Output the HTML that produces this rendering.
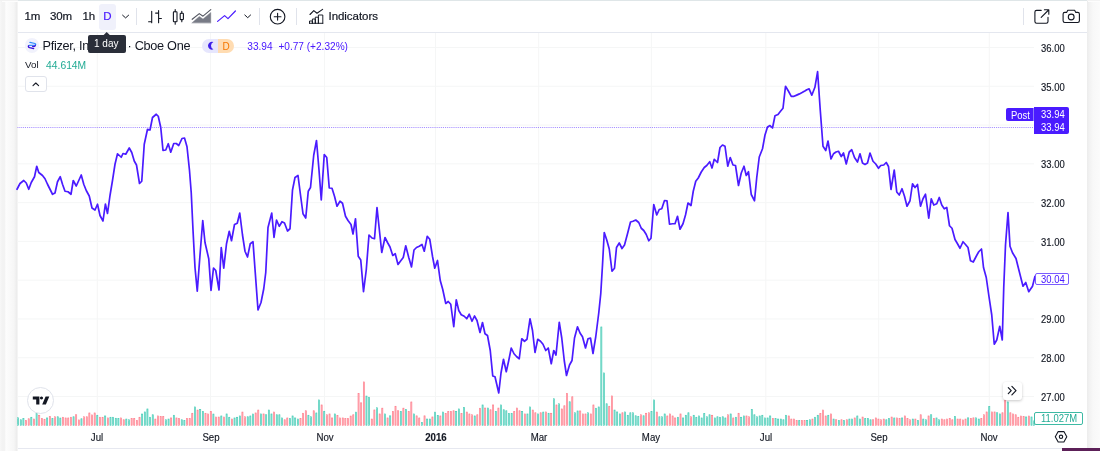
<!DOCTYPE html>
<html><head><meta charset="utf-8"><title>Pfizer chart</title>
<style>
html,body{margin:0;padding:0}
body{width:1100px;height:451px;overflow:hidden;position:relative;background:#fafafa;font-family:"Liberation Sans",sans-serif;color:#131722}
.ls{position:absolute;left:0;top:0;width:17.5px;height:451px;background:linear-gradient(90deg,#f8f8f8 0,#f3f3f3 2px,#f3f3f3 4.5px,#fdfdfd 6px,#fbfbfb 8px,#f6f6f6 14px,#ededed 16.5px,#f4f4f4 17.5px)}
.rs{position:absolute;left:1087.3px;top:0;width:12.7px;height:451px;background:linear-gradient(90deg,#ececec 0,#f3f3f3 3px,#f8f8f8 6px,#fbfbfb 100%)}
.topstrip{position:absolute;left:17.5px;top:0;width:1069.8px;height:1.2px;background:#dfe6e8}
.w{position:absolute;left:17.5px;top:1.2px;width:1069.8px;height:447px;background:#fff}
.tbline{position:absolute;left:17.5px;top:32px;width:1069.8px;height:1px;background:#e4e7ef}
.botline{position:absolute;left:17.5px;top:447.8px;width:1045px;height:1px;background:#e6e8f0}
.below{position:absolute;left:17.5px;top:448.8px;width:1045px;height:3px;background:#fff}
.purple{position:absolute;left:1062.2px;top:447.7px;width:38px;height:4px;background:#5c2058}
.tb{position:absolute;top:10.3px;font-size:11.5px;line-height:13px;letter-spacing:-0.12px;-webkit-text-stroke:0.2px #131722;white-space:nowrap;color:#131722}
.sep{position:absolute;top:8px;width:1px;height:17.4px;background:#e0e3eb}
.dbg{position:absolute;left:98.7px;top:3.6px;width:17.1px;height:26.4px;border-radius:3px;background:#f0f1fb}
svg{position:absolute;left:0;top:0;overflow:visible}
.tl{position:absolute;top:431.6px;width:40px;text-align:center;font-size:10.4px;line-height:12px;color:#131722;-webkit-text-stroke:0.15px #131722;transform:scaleX(.93);transform-origin:50% 50%}
.tl.b{font-weight:bold}
.pl{position:absolute;left:1040.8px;font-size:10.4px;line-height:12px;color:#131722;-webkit-text-stroke:0.15px #131722;white-space:nowrap;transform:scaleX(.91);transform-origin:0 50%}
.sx{display:inline-block;transform:scaleX(.91);transform-origin:0 50%}
.lab{position:absolute;font-size:10.4px;line-height:13.4px;color:#fff;background:#4a1bff;white-space:nowrap;box-sizing:border-box}
.leg{position:absolute;white-space:nowrap}
</style></head><body>
<div class="ls"></div><div class="rs"></div><div class="topstrip"></div>
<div style="position:absolute;left:0;top:0;width:17.5px;height:1.1px;background:#f2f2f2"></div><div style="position:absolute;left:2px;top:1.1px;width:15.5px;height:1px;background:#fdfdfd"></div><div style="position:absolute;left:1087.3px;top:0;width:12.7px;height:1.1px;background:#f3f3f3"></div><div style="position:absolute;left:1088.3px;top:1.1px;width:11.7px;height:1px;background:#fdfdfd"></div>
<div class="w"></div>
<div class="tbline"></div><div class="botline"></div><div class="below"></div><div class="purple"></div>

<!-- chart svg -->
<svg width="1100" height="451" viewBox="0 0 1100 451">
<g stroke="#f5f6f6" stroke-width="1" shape-rendering="auto"><line x1="97.3" y1="33" x2="97.3" y2="425" /><line x1="210.5" y1="33" x2="210.5" y2="425" /><line x1="324.5" y1="33" x2="324.5" y2="425" /><line x1="435.5" y1="33" x2="435.5" y2="425" /><line x1="538.7" y1="33" x2="538.7" y2="425" /><line x1="651.4" y1="33" x2="651.4" y2="425" /><line x1="765.8" y1="33" x2="765.8" y2="425" /><line x1="878.7" y1="33" x2="878.7" y2="425" /><line x1="989.3" y1="33" x2="989.3" y2="425" /><line x1="17.5" y1="47.5" x2="1034" y2="47.5" /><line x1="17.5" y1="86.28" x2="1034" y2="86.28" /><line x1="17.5" y1="125.06" x2="1034" y2="125.06" /><line x1="17.5" y1="163.84" x2="1034" y2="163.84" /><line x1="17.5" y1="202.62" x2="1034" y2="202.62" /><line x1="17.5" y1="241.4" x2="1034" y2="241.4" /><line x1="17.5" y1="280.18" x2="1034" y2="280.18" /><line x1="17.5" y1="318.96" x2="1034" y2="318.96" /><line x1="17.5" y1="357.74" x2="1034" y2="357.74" /><line x1="17.5" y1="396.52" x2="1034" y2="396.52" /></g>
<g><rect x="17.58" y="417.75" width="1.1" height="7.5" fill="#9be4d8" stroke="#3cc9b2" stroke-width="0.6"/>
<rect x="20.22" y="419.75" width="1.1" height="5.5" fill="#9be4d8" stroke="#3cc9b2" stroke-width="0.6"/>
<rect x="22.86" y="418.55" width="1.1" height="6.7" fill="#9be4d8" stroke="#3cc9b2" stroke-width="0.6"/>
<rect x="25.5" y="420.55" width="1.1" height="4.7" fill="#ffbcc2" stroke="#ff7584" stroke-width="0.6"/>
<rect x="28.14" y="418.75" width="1.1" height="6.5" fill="#ffbcc2" stroke="#ff7584" stroke-width="0.6"/>
<rect x="30.78" y="417.25" width="1.1" height="8" fill="#9be4d8" stroke="#3cc9b2" stroke-width="0.6"/>
<rect x="33.41" y="419.05" width="1.1" height="6.2" fill="#ffbcc2" stroke="#ff7584" stroke-width="0.6"/>
<rect x="36.05" y="412.95" width="1.1" height="12.3" fill="#9be4d8" stroke="#3cc9b2" stroke-width="0.6"/>
<rect x="38.69" y="415.25" width="1.1" height="10" fill="#ffbcc2" stroke="#ff7584" stroke-width="0.6"/>
<rect x="41.33" y="418.55" width="1.1" height="6.7" fill="#ffbcc2" stroke="#ff7584" stroke-width="0.6"/>
<rect x="43.97" y="419.25" width="1.1" height="6" fill="#ffbcc2" stroke="#ff7584" stroke-width="0.6"/>
<rect x="46.61" y="417.95" width="1.1" height="7.3" fill="#9be4d8" stroke="#3cc9b2" stroke-width="0.6"/>
<rect x="49.25" y="416.55" width="1.1" height="8.7" fill="#ffbcc2" stroke="#ff7584" stroke-width="0.6"/>
<rect x="51.89" y="418.55" width="1.1" height="6.7" fill="#9be4d8" stroke="#3cc9b2" stroke-width="0.6"/>
<rect x="54.53" y="416.75" width="1.1" height="8.5" fill="#ffbcc2" stroke="#ff7584" stroke-width="0.6"/>
<rect x="57.17" y="416.75" width="1.1" height="8.5" fill="#9be4d8" stroke="#3cc9b2" stroke-width="0.6"/>
<rect x="59.8" y="418.05" width="1.1" height="7.2" fill="#9be4d8" stroke="#3cc9b2" stroke-width="0.6"/>
<rect x="62.44" y="417.25" width="1.1" height="8" fill="#ffbcc2" stroke="#ff7584" stroke-width="0.6"/>
<rect x="65.08" y="417.95" width="1.1" height="7.3" fill="#ffbcc2" stroke="#ff7584" stroke-width="0.6"/>
<rect x="67.72" y="417.95" width="1.1" height="7.3" fill="#ffbcc2" stroke="#ff7584" stroke-width="0.6"/>
<rect x="70.36" y="417.25" width="1.1" height="8" fill="#ffbcc2" stroke="#ff7584" stroke-width="0.6"/>
<rect x="73" y="416.75" width="1.1" height="8.5" fill="#9be4d8" stroke="#3cc9b2" stroke-width="0.6"/>
<rect x="75.64" y="414.75" width="1.1" height="10.5" fill="#ffbcc2" stroke="#ff7584" stroke-width="0.6"/>
<rect x="78.28" y="419.95" width="1.1" height="5.3" fill="#ffbcc2" stroke="#ff7584" stroke-width="0.6"/>
<rect x="80.92" y="418.75" width="1.1" height="6.5" fill="#9be4d8" stroke="#3cc9b2" stroke-width="0.6"/>
<rect x="83.56" y="416.75" width="1.1" height="8.5" fill="#ffbcc2" stroke="#ff7584" stroke-width="0.6"/>
<rect x="86.19" y="416.75" width="1.1" height="8.5" fill="#ffbcc2" stroke="#ff7584" stroke-width="0.6"/>
<rect x="88.83" y="412.95" width="1.1" height="12.3" fill="#ffbcc2" stroke="#ff7584" stroke-width="0.6"/>
<rect x="91.47" y="414.95" width="1.1" height="10.3" fill="#ffbcc2" stroke="#ff7584" stroke-width="0.6"/>
<rect x="94.11" y="412.95" width="1.1" height="12.3" fill="#ffbcc2" stroke="#ff7584" stroke-width="0.6"/>
<rect x="96.75" y="415.25" width="1.1" height="10" fill="#9be4d8" stroke="#3cc9b2" stroke-width="0.6"/>
<rect x="99.39" y="417.25" width="1.1" height="8" fill="#ffbcc2" stroke="#ff7584" stroke-width="0.6"/>
<rect x="102.03" y="417.25" width="1.1" height="8" fill="#ffbcc2" stroke="#ff7584" stroke-width="0.6"/>
<rect x="104.67" y="415.95" width="1.1" height="9.3" fill="#9be4d8" stroke="#3cc9b2" stroke-width="0.6"/>
<rect x="107.31" y="417.95" width="1.1" height="7.3" fill="#ffbcc2" stroke="#ff7584" stroke-width="0.6"/>
<rect x="109.94" y="417.25" width="1.1" height="8" fill="#9be4d8" stroke="#3cc9b2" stroke-width="0.6"/>
<rect x="112.58" y="417.25" width="1.1" height="8" fill="#9be4d8" stroke="#3cc9b2" stroke-width="0.6"/>
<rect x="115.22" y="418.25" width="1.1" height="7" fill="#9be4d8" stroke="#3cc9b2" stroke-width="0.6"/>
<rect x="117.86" y="418.45" width="1.1" height="6.8" fill="#9be4d8" stroke="#3cc9b2" stroke-width="0.6"/>
<rect x="120.5" y="417.95" width="1.1" height="7.3" fill="#ffbcc2" stroke="#ff7584" stroke-width="0.6"/>
<rect x="123.14" y="419.75" width="1.1" height="5.5" fill="#ffbcc2" stroke="#ff7584" stroke-width="0.6"/>
<rect x="125.78" y="419.05" width="1.1" height="6.2" fill="#9be4d8" stroke="#3cc9b2" stroke-width="0.6"/>
<rect x="128.42" y="419.75" width="1.1" height="5.5" fill="#9be4d8" stroke="#3cc9b2" stroke-width="0.6"/>
<rect x="131.06" y="418.55" width="1.1" height="6.7" fill="#ffbcc2" stroke="#ff7584" stroke-width="0.6"/>
<rect x="133.7" y="418.45" width="1.1" height="6.8" fill="#ffbcc2" stroke="#ff7584" stroke-width="0.6"/>
<rect x="136.33" y="420.55" width="1.1" height="4.7" fill="#ffbcc2" stroke="#ff7584" stroke-width="0.6"/>
<rect x="138.97" y="417.25" width="1.1" height="8" fill="#ffbcc2" stroke="#ff7584" stroke-width="0.6"/>
<rect x="141.61" y="414.05" width="1.1" height="11.2" fill="#9be4d8" stroke="#3cc9b2" stroke-width="0.6"/>
<rect x="144.25" y="411.95" width="1.1" height="13.3" fill="#9be4d8" stroke="#3cc9b2" stroke-width="0.6"/>
<rect x="146.89" y="408.95" width="1.1" height="16.3" fill="#9be4d8" stroke="#3cc9b2" stroke-width="0.6"/>
<rect x="149.53" y="417.25" width="1.1" height="8" fill="#9be4d8" stroke="#3cc9b2" stroke-width="0.6"/>
<rect x="152.17" y="414.75" width="1.1" height="10.5" fill="#9be4d8" stroke="#3cc9b2" stroke-width="0.6"/>
<rect x="154.81" y="419.05" width="1.1" height="6.2" fill="#ffbcc2" stroke="#ff7584" stroke-width="0.6"/>
<rect x="157.45" y="415.95" width="1.1" height="9.3" fill="#ffbcc2" stroke="#ff7584" stroke-width="0.6"/>
<rect x="160.09" y="416.55" width="1.1" height="8.7" fill="#ffbcc2" stroke="#ff7584" stroke-width="0.6"/>
<rect x="162.72" y="416.55" width="1.1" height="8.7" fill="#ffbcc2" stroke="#ff7584" stroke-width="0.6"/>
<rect x="165.36" y="419.75" width="1.1" height="5.5" fill="#9be4d8" stroke="#3cc9b2" stroke-width="0.6"/>
<rect x="168" y="419.05" width="1.1" height="6.2" fill="#9be4d8" stroke="#3cc9b2" stroke-width="0.6"/>
<rect x="170.64" y="417.95" width="1.1" height="7.3" fill="#ffbcc2" stroke="#ff7584" stroke-width="0.6"/>
<rect x="173.28" y="415.25" width="1.1" height="10" fill="#9be4d8" stroke="#3cc9b2" stroke-width="0.6"/>
<rect x="175.92" y="417.95" width="1.1" height="7.3" fill="#ffbcc2" stroke="#ff7584" stroke-width="0.6"/>
<rect x="178.56" y="418.45" width="1.1" height="6.8" fill="#ffbcc2" stroke="#ff7584" stroke-width="0.6"/>
<rect x="181.2" y="419.75" width="1.1" height="5.5" fill="#9be4d8" stroke="#3cc9b2" stroke-width="0.6"/>
<rect x="183.84" y="420.55" width="1.1" height="4.7" fill="#9be4d8" stroke="#3cc9b2" stroke-width="0.6"/>
<rect x="186.48" y="418.55" width="1.1" height="6.7" fill="#ffbcc2" stroke="#ff7584" stroke-width="0.6"/>
<rect x="189.11" y="418.55" width="1.1" height="6.7" fill="#ffbcc2" stroke="#ff7584" stroke-width="0.6"/>
<rect x="191.75" y="413.25" width="1.1" height="12" fill="#ffbcc2" stroke="#ff7584" stroke-width="0.6"/>
<rect x="194.39" y="406.95" width="1.1" height="18.3" fill="#9be4d8" stroke="#3cc9b2" stroke-width="0.6"/>
<rect x="197.03" y="410.05" width="1.1" height="15.2" fill="#ffbcc2" stroke="#ff7584" stroke-width="0.6"/>
<rect x="199.67" y="409.55" width="1.1" height="15.7" fill="#9be4d8" stroke="#3cc9b2" stroke-width="0.6"/>
<rect x="202.31" y="411.55" width="1.1" height="13.7" fill="#9be4d8" stroke="#3cc9b2" stroke-width="0.6"/>
<rect x="204.95" y="413.25" width="1.1" height="12" fill="#ffbcc2" stroke="#ff7584" stroke-width="0.6"/>
<rect x="207.59" y="413.95" width="1.1" height="11.3" fill="#ffbcc2" stroke="#ff7584" stroke-width="0.6"/>
<rect x="210.23" y="411.45" width="1.1" height="13.8" fill="#ffbcc2" stroke="#ff7584" stroke-width="0.6"/>
<rect x="212.87" y="414.05" width="1.1" height="11.2" fill="#9be4d8" stroke="#3cc9b2" stroke-width="0.6"/>
<rect x="215.5" y="417.05" width="1.1" height="8.2" fill="#ffbcc2" stroke="#ff7584" stroke-width="0.6"/>
<rect x="218.14" y="417.05" width="1.1" height="8.2" fill="#ffbcc2" stroke="#ff7584" stroke-width="0.6"/>
<rect x="220.78" y="415.95" width="1.1" height="9.3" fill="#9be4d8" stroke="#3cc9b2" stroke-width="0.6"/>
<rect x="223.42" y="417.05" width="1.1" height="8.2" fill="#ffbcc2" stroke="#ff7584" stroke-width="0.6"/>
<rect x="226.06" y="413.95" width="1.1" height="11.3" fill="#9be4d8" stroke="#3cc9b2" stroke-width="0.6"/>
<rect x="228.7" y="417.25" width="1.1" height="8" fill="#9be4d8" stroke="#3cc9b2" stroke-width="0.6"/>
<rect x="231.34" y="419.05" width="1.1" height="6.2" fill="#ffbcc2" stroke="#ff7584" stroke-width="0.6"/>
<rect x="233.98" y="417.95" width="1.1" height="7.3" fill="#9be4d8" stroke="#3cc9b2" stroke-width="0.6"/>
<rect x="236.62" y="417.25" width="1.1" height="8" fill="#9be4d8" stroke="#3cc9b2" stroke-width="0.6"/>
<rect x="239.26" y="415.95" width="1.1" height="9.3" fill="#9be4d8" stroke="#3cc9b2" stroke-width="0.6"/>
<rect x="241.89" y="412.05" width="1.1" height="13.2" fill="#ffbcc2" stroke="#ff7584" stroke-width="0.6"/>
<rect x="244.53" y="416.75" width="1.1" height="8.5" fill="#ffbcc2" stroke="#ff7584" stroke-width="0.6"/>
<rect x="247.17" y="416.75" width="1.1" height="8.5" fill="#9be4d8" stroke="#3cc9b2" stroke-width="0.6"/>
<rect x="249.81" y="415.95" width="1.1" height="9.3" fill="#9be4d8" stroke="#3cc9b2" stroke-width="0.6"/>
<rect x="252.45" y="414.05" width="1.1" height="11.2" fill="#9be4d8" stroke="#3cc9b2" stroke-width="0.6"/>
<rect x="255.09" y="412.95" width="1.1" height="12.3" fill="#ffbcc2" stroke="#ff7584" stroke-width="0.6"/>
<rect x="257.73" y="410.05" width="1.1" height="15.2" fill="#ffbcc2" stroke="#ff7584" stroke-width="0.6"/>
<rect x="260.37" y="413.95" width="1.1" height="11.3" fill="#9be4d8" stroke="#3cc9b2" stroke-width="0.6"/>
<rect x="263.01" y="413.95" width="1.1" height="11.3" fill="#ffbcc2" stroke="#ff7584" stroke-width="0.6"/>
<rect x="265.65" y="414.75" width="1.1" height="10.5" fill="#9be4d8" stroke="#3cc9b2" stroke-width="0.6"/>
<rect x="268.28" y="410.05" width="1.1" height="15.2" fill="#9be4d8" stroke="#3cc9b2" stroke-width="0.6"/>
<rect x="270.92" y="413.95" width="1.1" height="11.3" fill="#9be4d8" stroke="#3cc9b2" stroke-width="0.6"/>
<rect x="273.56" y="412.05" width="1.1" height="13.2" fill="#ffbcc2" stroke="#ff7584" stroke-width="0.6"/>
<rect x="276.2" y="414.75" width="1.1" height="10.5" fill="#9be4d8" stroke="#3cc9b2" stroke-width="0.6"/>
<rect x="278.84" y="414.75" width="1.1" height="10.5" fill="#9be4d8" stroke="#3cc9b2" stroke-width="0.6"/>
<rect x="281.48" y="417.95" width="1.1" height="7.3" fill="#9be4d8" stroke="#3cc9b2" stroke-width="0.6"/>
<rect x="284.12" y="419.75" width="1.1" height="5.5" fill="#ffbcc2" stroke="#ff7584" stroke-width="0.6"/>
<rect x="286.76" y="417.95" width="1.1" height="7.3" fill="#ffbcc2" stroke="#ff7584" stroke-width="0.6"/>
<rect x="289.4" y="418.55" width="1.1" height="6.7" fill="#9be4d8" stroke="#3cc9b2" stroke-width="0.6"/>
<rect x="292.04" y="415.95" width="1.1" height="9.3" fill="#9be4d8" stroke="#3cc9b2" stroke-width="0.6"/>
<rect x="294.67" y="417.95" width="1.1" height="7.3" fill="#9be4d8" stroke="#3cc9b2" stroke-width="0.6"/>
<rect x="297.31" y="419.05" width="1.1" height="6.2" fill="#9be4d8" stroke="#3cc9b2" stroke-width="0.6"/>
<rect x="299.95" y="418.45" width="1.1" height="6.8" fill="#ffbcc2" stroke="#ff7584" stroke-width="0.6"/>
<rect x="302.59" y="413.25" width="1.1" height="12" fill="#ffbcc2" stroke="#ff7584" stroke-width="0.6"/>
<rect x="305.23" y="410.75" width="1.1" height="14.5" fill="#ffbcc2" stroke="#ff7584" stroke-width="0.6"/>
<rect x="307.87" y="415.25" width="1.1" height="10" fill="#9be4d8" stroke="#3cc9b2" stroke-width="0.6"/>
<rect x="310.51" y="416.75" width="1.1" height="8.5" fill="#9be4d8" stroke="#3cc9b2" stroke-width="0.6"/>
<rect x="313.15" y="410.75" width="1.1" height="14.5" fill="#ffbcc2" stroke="#ff7584" stroke-width="0.6"/>
<rect x="315.79" y="412.95" width="1.1" height="12.3" fill="#9be4d8" stroke="#3cc9b2" stroke-width="0.6"/>
<rect x="318.43" y="399.95" width="1.1" height="25.3" fill="#9be4d8" stroke="#3cc9b2" stroke-width="0.6"/>
<rect x="321.06" y="404.95" width="1.1" height="20.3" fill="#ffbcc2" stroke="#ff7584" stroke-width="0.6"/>
<rect x="323.7" y="411.25" width="1.1" height="14" fill="#9be4d8" stroke="#3cc9b2" stroke-width="0.6"/>
<rect x="326.34" y="414.75" width="1.1" height="10.5" fill="#ffbcc2" stroke="#ff7584" stroke-width="0.6"/>
<rect x="328.98" y="413.95" width="1.1" height="11.3" fill="#ffbcc2" stroke="#ff7584" stroke-width="0.6"/>
<rect x="331.62" y="417.95" width="1.1" height="7.3" fill="#ffbcc2" stroke="#ff7584" stroke-width="0.6"/>
<rect x="334.26" y="413.95" width="1.1" height="11.3" fill="#9be4d8" stroke="#3cc9b2" stroke-width="0.6"/>
<rect x="336.9" y="415.35" width="1.1" height="9.9" fill="#ffbcc2" stroke="#ff7584" stroke-width="0.6"/>
<rect x="339.54" y="417.95" width="1.1" height="7.3" fill="#ffbcc2" stroke="#ff7584" stroke-width="0.6"/>
<rect x="342.18" y="417.95" width="1.1" height="7.3" fill="#ffbcc2" stroke="#ff7584" stroke-width="0.6"/>
<rect x="344.82" y="418.65" width="1.1" height="6.6" fill="#ffbcc2" stroke="#ff7584" stroke-width="0.6"/>
<rect x="347.45" y="418.65" width="1.1" height="6.6" fill="#ffbcc2" stroke="#ff7584" stroke-width="0.6"/>
<rect x="350.09" y="416.05" width="1.1" height="9.2" fill="#ffbcc2" stroke="#ff7584" stroke-width="0.6"/>
<rect x="352.73" y="414.75" width="1.1" height="10.5" fill="#ffbcc2" stroke="#ff7584" stroke-width="0.6"/>
<rect x="355.37" y="412.15" width="1.1" height="13.1" fill="#9be4d8" stroke="#3cc9b2" stroke-width="0.6"/>
<rect x="358.01" y="393.45" width="1.1" height="31.8" fill="#ffbcc2" stroke="#ff7584" stroke-width="0.6"/>
<rect x="360.65" y="402.85" width="1.1" height="22.4" fill="#ffbcc2" stroke="#ff7584" stroke-width="0.6"/>
<rect x="363.29" y="381.95" width="1.1" height="43.3" fill="#ffbcc2" stroke="#ff7584" stroke-width="0.6"/>
<rect x="365.93" y="396.05" width="1.1" height="29.2" fill="#9be4d8" stroke="#3cc9b2" stroke-width="0.6"/>
<rect x="368.57" y="397.25" width="1.1" height="28" fill="#9be4d8" stroke="#3cc9b2" stroke-width="0.6"/>
<rect x="371.21" y="419.05" width="1.1" height="6.2" fill="#ffbcc2" stroke="#ff7584" stroke-width="0.6"/>
<rect x="373.84" y="409.95" width="1.1" height="15.3" fill="#ffbcc2" stroke="#ff7584" stroke-width="0.6"/>
<rect x="376.48" y="407.75" width="1.1" height="17.5" fill="#9be4d8" stroke="#3cc9b2" stroke-width="0.6"/>
<rect x="379.12" y="413.95" width="1.1" height="11.3" fill="#ffbcc2" stroke="#ff7584" stroke-width="0.6"/>
<rect x="381.76" y="408.15" width="1.1" height="17.1" fill="#ffbcc2" stroke="#ff7584" stroke-width="0.6"/>
<rect x="384.4" y="413.95" width="1.1" height="11.3" fill="#9be4d8" stroke="#3cc9b2" stroke-width="0.6"/>
<rect x="387.04" y="417.95" width="1.1" height="7.3" fill="#ffbcc2" stroke="#ff7584" stroke-width="0.6"/>
<rect x="389.68" y="415.85" width="1.1" height="9.4" fill="#9be4d8" stroke="#3cc9b2" stroke-width="0.6"/>
<rect x="392.32" y="411.55" width="1.1" height="13.7" fill="#ffbcc2" stroke="#ff7584" stroke-width="0.6"/>
<rect x="394.96" y="406.25" width="1.1" height="19" fill="#ffbcc2" stroke="#ff7584" stroke-width="0.6"/>
<rect x="397.6" y="410.75" width="1.1" height="14.5" fill="#ffbcc2" stroke="#ff7584" stroke-width="0.6"/>
<rect x="400.23" y="411.55" width="1.1" height="13.7" fill="#9be4d8" stroke="#3cc9b2" stroke-width="0.6"/>
<rect x="402.87" y="408.15" width="1.1" height="17.1" fill="#ffbcc2" stroke="#ff7584" stroke-width="0.6"/>
<rect x="405.51" y="409.65" width="1.1" height="15.6" fill="#9be4d8" stroke="#3cc9b2" stroke-width="0.6"/>
<rect x="408.15" y="411.55" width="1.1" height="13.7" fill="#ffbcc2" stroke="#ff7584" stroke-width="0.6"/>
<rect x="410.79" y="401.95" width="1.1" height="23.3" fill="#ffbcc2" stroke="#ff7584" stroke-width="0.6"/>
<rect x="413.43" y="413.95" width="1.1" height="11.3" fill="#9be4d8" stroke="#3cc9b2" stroke-width="0.6"/>
<rect x="416.07" y="415.85" width="1.1" height="9.4" fill="#ffbcc2" stroke="#ff7584" stroke-width="0.6"/>
<rect x="418.71" y="417.95" width="1.1" height="7.3" fill="#ffbcc2" stroke="#ff7584" stroke-width="0.6"/>
<rect x="421.35" y="422.35" width="1.1" height="2.9" fill="#9be4d8" stroke="#3cc9b2" stroke-width="0.6"/>
<rect x="423.99" y="415.85" width="1.1" height="9.4" fill="#ffbcc2" stroke="#ff7584" stroke-width="0.6"/>
<rect x="426.62" y="419.05" width="1.1" height="6.2" fill="#9be4d8" stroke="#3cc9b2" stroke-width="0.6"/>
<rect x="429.26" y="419.05" width="1.1" height="6.2" fill="#9be4d8" stroke="#3cc9b2" stroke-width="0.6"/>
<rect x="431.9" y="416.95" width="1.1" height="8.3" fill="#ffbcc2" stroke="#ff7584" stroke-width="0.6"/>
<rect x="434.54" y="412.15" width="1.1" height="13.1" fill="#9be4d8" stroke="#3cc9b2" stroke-width="0.6"/>
<rect x="437.18" y="415.35" width="1.1" height="9.9" fill="#9be4d8" stroke="#3cc9b2" stroke-width="0.6"/>
<rect x="439.82" y="415.95" width="1.1" height="9.3" fill="#ffbcc2" stroke="#ff7584" stroke-width="0.6"/>
<rect x="442.46" y="412.05" width="1.1" height="13.2" fill="#9be4d8" stroke="#3cc9b2" stroke-width="0.6"/>
<rect x="445.1" y="413.45" width="1.1" height="11.8" fill="#ffbcc2" stroke="#ff7584" stroke-width="0.6"/>
<rect x="447.74" y="411.55" width="1.1" height="13.7" fill="#ffbcc2" stroke="#ff7584" stroke-width="0.6"/>
<rect x="450.38" y="411.55" width="1.1" height="13.7" fill="#ffbcc2" stroke="#ff7584" stroke-width="0.6"/>
<rect x="453.01" y="410.75" width="1.1" height="14.5" fill="#ffbcc2" stroke="#ff7584" stroke-width="0.6"/>
<rect x="455.65" y="411.55" width="1.1" height="13.7" fill="#9be4d8" stroke="#3cc9b2" stroke-width="0.6"/>
<rect x="458.29" y="408.95" width="1.1" height="16.3" fill="#9be4d8" stroke="#3cc9b2" stroke-width="0.6"/>
<rect x="460.93" y="413.45" width="1.1" height="11.8" fill="#ffbcc2" stroke="#ff7584" stroke-width="0.6"/>
<rect x="463.57" y="407.55" width="1.1" height="17.7" fill="#9be4d8" stroke="#3cc9b2" stroke-width="0.6"/>
<rect x="466.21" y="412.05" width="1.1" height="13.2" fill="#ffbcc2" stroke="#ff7584" stroke-width="0.6"/>
<rect x="468.85" y="413.95" width="1.1" height="11.3" fill="#ffbcc2" stroke="#ff7584" stroke-width="0.6"/>
<rect x="471.49" y="414.75" width="1.1" height="10.5" fill="#ffbcc2" stroke="#ff7584" stroke-width="0.6"/>
<rect x="474.13" y="415.95" width="1.1" height="9.3" fill="#9be4d8" stroke="#3cc9b2" stroke-width="0.6"/>
<rect x="476.77" y="414.75" width="1.1" height="10.5" fill="#ffbcc2" stroke="#ff7584" stroke-width="0.6"/>
<rect x="479.4" y="408.25" width="1.1" height="17" fill="#ffbcc2" stroke="#ff7584" stroke-width="0.6"/>
<rect x="482.04" y="404.95" width="1.1" height="20.3" fill="#9be4d8" stroke="#3cc9b2" stroke-width="0.6"/>
<rect x="484.68" y="408.05" width="1.1" height="17.2" fill="#ffbcc2" stroke="#ff7584" stroke-width="0.6"/>
<rect x="487.32" y="408.05" width="1.1" height="17.2" fill="#9be4d8" stroke="#3cc9b2" stroke-width="0.6"/>
<rect x="489.96" y="409.75" width="1.1" height="15.5" fill="#ffbcc2" stroke="#ff7584" stroke-width="0.6"/>
<rect x="492.6" y="404.95" width="1.1" height="20.3" fill="#ffbcc2" stroke="#ff7584" stroke-width="0.6"/>
<rect x="495.24" y="411.55" width="1.1" height="13.7" fill="#9be4d8" stroke="#3cc9b2" stroke-width="0.6"/>
<rect x="497.88" y="408.05" width="1.1" height="17.2" fill="#ffbcc2" stroke="#ff7584" stroke-width="0.6"/>
<rect x="500.52" y="404.95" width="1.1" height="20.3" fill="#9be4d8" stroke="#3cc9b2" stroke-width="0.6"/>
<rect x="503.16" y="409.75" width="1.1" height="15.5" fill="#9be4d8" stroke="#3cc9b2" stroke-width="0.6"/>
<rect x="505.79" y="410.75" width="1.1" height="14.5" fill="#9be4d8" stroke="#3cc9b2" stroke-width="0.6"/>
<rect x="508.43" y="413.45" width="1.1" height="11.8" fill="#9be4d8" stroke="#3cc9b2" stroke-width="0.6"/>
<rect x="511.07" y="413.45" width="1.1" height="11.8" fill="#9be4d8" stroke="#3cc9b2" stroke-width="0.6"/>
<rect x="513.71" y="411.55" width="1.1" height="13.7" fill="#ffbcc2" stroke="#ff7584" stroke-width="0.6"/>
<rect x="516.35" y="408.05" width="1.1" height="17.2" fill="#ffbcc2" stroke="#ff7584" stroke-width="0.6"/>
<rect x="518.99" y="410.75" width="1.1" height="14.5" fill="#ffbcc2" stroke="#ff7584" stroke-width="0.6"/>
<rect x="521.63" y="411.55" width="1.1" height="13.7" fill="#9be4d8" stroke="#3cc9b2" stroke-width="0.6"/>
<rect x="524.27" y="413.95" width="1.1" height="11.3" fill="#ffbcc2" stroke="#ff7584" stroke-width="0.6"/>
<rect x="526.91" y="413.95" width="1.1" height="11.3" fill="#9be4d8" stroke="#3cc9b2" stroke-width="0.6"/>
<rect x="529.55" y="406.95" width="1.1" height="18.3" fill="#9be4d8" stroke="#3cc9b2" stroke-width="0.6"/>
<rect x="532.18" y="410.05" width="1.1" height="15.2" fill="#ffbcc2" stroke="#ff7584" stroke-width="0.6"/>
<rect x="534.82" y="412.75" width="1.1" height="12.5" fill="#ffbcc2" stroke="#ff7584" stroke-width="0.6"/>
<rect x="537.46" y="413.95" width="1.1" height="11.3" fill="#9be4d8" stroke="#3cc9b2" stroke-width="0.6"/>
<rect x="540.1" y="412.75" width="1.1" height="12.5" fill="#ffbcc2" stroke="#ff7584" stroke-width="0.6"/>
<rect x="542.74" y="412.05" width="1.1" height="13.2" fill="#9be4d8" stroke="#3cc9b2" stroke-width="0.6"/>
<rect x="545.38" y="411.95" width="1.1" height="13.3" fill="#ffbcc2" stroke="#ff7584" stroke-width="0.6"/>
<rect x="548.02" y="413.25" width="1.1" height="12" fill="#9be4d8" stroke="#3cc9b2" stroke-width="0.6"/>
<rect x="550.66" y="413.25" width="1.1" height="12" fill="#ffbcc2" stroke="#ff7584" stroke-width="0.6"/>
<rect x="553.3" y="398.75" width="1.1" height="26.5" fill="#9be4d8" stroke="#3cc9b2" stroke-width="0.6"/>
<rect x="555.94" y="404.95" width="1.1" height="20.3" fill="#ffbcc2" stroke="#ff7584" stroke-width="0.6"/>
<rect x="558.58" y="403.75" width="1.1" height="21.5" fill="#9be4d8" stroke="#3cc9b2" stroke-width="0.6"/>
<rect x="561.21" y="408.95" width="1.1" height="16.3" fill="#ffbcc2" stroke="#ff7584" stroke-width="0.6"/>
<rect x="563.85" y="405.75" width="1.1" height="19.5" fill="#ffbcc2" stroke="#ff7584" stroke-width="0.6"/>
<rect x="566.49" y="393.55" width="1.1" height="31.7" fill="#ffbcc2" stroke="#ff7584" stroke-width="0.6"/>
<rect x="569.13" y="401.75" width="1.1" height="23.5" fill="#9be4d8" stroke="#3cc9b2" stroke-width="0.6"/>
<rect x="571.77" y="396.75" width="1.1" height="28.5" fill="#ffbcc2" stroke="#ff7584" stroke-width="0.6"/>
<rect x="574.41" y="412.75" width="1.1" height="12.5" fill="#9be4d8" stroke="#3cc9b2" stroke-width="0.6"/>
<rect x="577.05" y="410.95" width="1.1" height="14.3" fill="#9be4d8" stroke="#3cc9b2" stroke-width="0.6"/>
<rect x="579.69" y="410.95" width="1.1" height="14.3" fill="#ffbcc2" stroke="#ff7584" stroke-width="0.6"/>
<rect x="582.33" y="413.95" width="1.1" height="11.3" fill="#ffbcc2" stroke="#ff7584" stroke-width="0.6"/>
<rect x="584.97" y="413.95" width="1.1" height="11.3" fill="#ffbcc2" stroke="#ff7584" stroke-width="0.6"/>
<rect x="587.6" y="412.75" width="1.1" height="12.5" fill="#9be4d8" stroke="#3cc9b2" stroke-width="0.6"/>
<rect x="590.24" y="413.95" width="1.1" height="11.3" fill="#ffbcc2" stroke="#ff7584" stroke-width="0.6"/>
<rect x="592.88" y="404.95" width="1.1" height="20.3" fill="#ffbcc2" stroke="#ff7584" stroke-width="0.6"/>
<rect x="595.52" y="408.25" width="1.1" height="17" fill="#9be4d8" stroke="#3cc9b2" stroke-width="0.6"/>
<rect x="598.16" y="406.95" width="1.1" height="18.3" fill="#9be4d8" stroke="#3cc9b2" stroke-width="0.6"/>
<rect x="600.8" y="326.95" width="1.1" height="98.3" fill="#9be4d8" stroke="#3cc9b2" stroke-width="0.6"/>
<rect x="603.44" y="372.95" width="1.1" height="52.3" fill="#9be4d8" stroke="#3cc9b2" stroke-width="0.6"/>
<rect x="606.08" y="403.75" width="1.1" height="21.5" fill="#9be4d8" stroke="#3cc9b2" stroke-width="0.6"/>
<rect x="608.72" y="406.25" width="1.1" height="19" fill="#ffbcc2" stroke="#ff7584" stroke-width="0.6"/>
<rect x="611.35" y="395.95" width="1.1" height="29.3" fill="#ffbcc2" stroke="#ff7584" stroke-width="0.6"/>
<rect x="613.99" y="410.05" width="1.1" height="15.2" fill="#9be4d8" stroke="#3cc9b2" stroke-width="0.6"/>
<rect x="616.63" y="411.95" width="1.1" height="13.3" fill="#9be4d8" stroke="#3cc9b2" stroke-width="0.6"/>
<rect x="619.27" y="413.95" width="1.1" height="11.3" fill="#9be4d8" stroke="#3cc9b2" stroke-width="0.6"/>
<rect x="621.91" y="412.75" width="1.1" height="12.5" fill="#ffbcc2" stroke="#ff7584" stroke-width="0.6"/>
<rect x="624.55" y="411.95" width="1.1" height="13.3" fill="#9be4d8" stroke="#3cc9b2" stroke-width="0.6"/>
<rect x="627.19" y="415.25" width="1.1" height="10" fill="#9be4d8" stroke="#3cc9b2" stroke-width="0.6"/>
<rect x="629.83" y="412.75" width="1.1" height="12.5" fill="#9be4d8" stroke="#3cc9b2" stroke-width="0.6"/>
<rect x="632.47" y="412.75" width="1.1" height="12.5" fill="#9be4d8" stroke="#3cc9b2" stroke-width="0.6"/>
<rect x="635.11" y="415.75" width="1.1" height="9.5" fill="#9be4d8" stroke="#3cc9b2" stroke-width="0.6"/>
<rect x="637.75" y="416.55" width="1.1" height="8.7" fill="#9be4d8" stroke="#3cc9b2" stroke-width="0.6"/>
<rect x="640.38" y="414.75" width="1.1" height="10.5" fill="#ffbcc2" stroke="#ff7584" stroke-width="0.6"/>
<rect x="643.02" y="415.75" width="1.1" height="9.5" fill="#9be4d8" stroke="#3cc9b2" stroke-width="0.6"/>
<rect x="645.66" y="413.25" width="1.1" height="12" fill="#ffbcc2" stroke="#ff7584" stroke-width="0.6"/>
<rect x="648.3" y="412.75" width="1.1" height="12.5" fill="#ffbcc2" stroke="#ff7584" stroke-width="0.6"/>
<rect x="650.94" y="411.45" width="1.1" height="13.8" fill="#9be4d8" stroke="#3cc9b2" stroke-width="0.6"/>
<rect x="653.58" y="399.95" width="1.1" height="25.3" fill="#9be4d8" stroke="#3cc9b2" stroke-width="0.6"/>
<rect x="656.22" y="412.05" width="1.1" height="13.2" fill="#ffbcc2" stroke="#ff7584" stroke-width="0.6"/>
<rect x="658.86" y="416.75" width="1.1" height="8.5" fill="#9be4d8" stroke="#3cc9b2" stroke-width="0.6"/>
<rect x="661.5" y="416.75" width="1.1" height="8.5" fill="#9be4d8" stroke="#3cc9b2" stroke-width="0.6"/>
<rect x="664.13" y="413.95" width="1.1" height="11.3" fill="#9be4d8" stroke="#3cc9b2" stroke-width="0.6"/>
<rect x="666.77" y="415.95" width="1.1" height="9.3" fill="#ffbcc2" stroke="#ff7584" stroke-width="0.6"/>
<rect x="669.41" y="413.95" width="1.1" height="11.3" fill="#ffbcc2" stroke="#ff7584" stroke-width="0.6"/>
<rect x="672.05" y="415.95" width="1.1" height="9.3" fill="#ffbcc2" stroke="#ff7584" stroke-width="0.6"/>
<rect x="674.69" y="417.95" width="1.1" height="7.3" fill="#ffbcc2" stroke="#ff7584" stroke-width="0.6"/>
<rect x="677.33" y="417.25" width="1.1" height="8" fill="#9be4d8" stroke="#3cc9b2" stroke-width="0.6"/>
<rect x="679.97" y="413.95" width="1.1" height="11.3" fill="#ffbcc2" stroke="#ff7584" stroke-width="0.6"/>
<rect x="682.61" y="417.95" width="1.1" height="7.3" fill="#9be4d8" stroke="#3cc9b2" stroke-width="0.6"/>
<rect x="685.25" y="415.25" width="1.1" height="10" fill="#9be4d8" stroke="#3cc9b2" stroke-width="0.6"/>
<rect x="687.89" y="412.75" width="1.1" height="12.5" fill="#9be4d8" stroke="#3cc9b2" stroke-width="0.6"/>
<rect x="690.52" y="416.75" width="1.1" height="8.5" fill="#ffbcc2" stroke="#ff7584" stroke-width="0.6"/>
<rect x="693.16" y="415.25" width="1.1" height="10" fill="#9be4d8" stroke="#3cc9b2" stroke-width="0.6"/>
<rect x="695.8" y="417.25" width="1.1" height="8" fill="#9be4d8" stroke="#3cc9b2" stroke-width="0.6"/>
<rect x="698.44" y="415.95" width="1.1" height="9.3" fill="#9be4d8" stroke="#3cc9b2" stroke-width="0.6"/>
<rect x="701.08" y="417.95" width="1.1" height="7.3" fill="#9be4d8" stroke="#3cc9b2" stroke-width="0.6"/>
<rect x="703.72" y="413.45" width="1.1" height="11.8" fill="#9be4d8" stroke="#3cc9b2" stroke-width="0.6"/>
<rect x="706.36" y="416.75" width="1.1" height="8.5" fill="#9be4d8" stroke="#3cc9b2" stroke-width="0.6"/>
<rect x="709" y="414.75" width="1.1" height="10.5" fill="#9be4d8" stroke="#3cc9b2" stroke-width="0.6"/>
<rect x="711.64" y="415.25" width="1.1" height="10" fill="#ffbcc2" stroke="#ff7584" stroke-width="0.6"/>
<rect x="714.28" y="417.95" width="1.1" height="7.3" fill="#9be4d8" stroke="#3cc9b2" stroke-width="0.6"/>
<rect x="716.91" y="416.75" width="1.1" height="8.5" fill="#9be4d8" stroke="#3cc9b2" stroke-width="0.6"/>
<rect x="719.55" y="417.25" width="1.1" height="8" fill="#9be4d8" stroke="#3cc9b2" stroke-width="0.6"/>
<rect x="722.19" y="416.75" width="1.1" height="8.5" fill="#9be4d8" stroke="#3cc9b2" stroke-width="0.6"/>
<rect x="724.83" y="417.95" width="1.1" height="7.3" fill="#9be4d8" stroke="#3cc9b2" stroke-width="0.6"/>
<rect x="727.47" y="414.75" width="1.1" height="10.5" fill="#ffbcc2" stroke="#ff7584" stroke-width="0.6"/>
<rect x="730.11" y="413.95" width="1.1" height="11.3" fill="#9be4d8" stroke="#3cc9b2" stroke-width="0.6"/>
<rect x="732.75" y="417.95" width="1.1" height="7.3" fill="#ffbcc2" stroke="#ff7584" stroke-width="0.6"/>
<rect x="735.39" y="417.25" width="1.1" height="8" fill="#9be4d8" stroke="#3cc9b2" stroke-width="0.6"/>
<rect x="738.03" y="413.25" width="1.1" height="12" fill="#ffbcc2" stroke="#ff7584" stroke-width="0.6"/>
<rect x="740.67" y="417.25" width="1.1" height="8" fill="#9be4d8" stroke="#3cc9b2" stroke-width="0.6"/>
<rect x="743.3" y="415.95" width="1.1" height="9.3" fill="#9be4d8" stroke="#3cc9b2" stroke-width="0.6"/>
<rect x="745.94" y="415.95" width="1.1" height="9.3" fill="#ffbcc2" stroke="#ff7584" stroke-width="0.6"/>
<rect x="748.58" y="416.75" width="1.1" height="8.5" fill="#ffbcc2" stroke="#ff7584" stroke-width="0.6"/>
<rect x="751.22" y="409.55" width="1.1" height="15.7" fill="#9be4d8" stroke="#3cc9b2" stroke-width="0.6"/>
<rect x="753.86" y="414.75" width="1.1" height="10.5" fill="#9be4d8" stroke="#3cc9b2" stroke-width="0.6"/>
<rect x="756.5" y="416.75" width="1.1" height="8.5" fill="#9be4d8" stroke="#3cc9b2" stroke-width="0.6"/>
<rect x="759.14" y="415.95" width="1.1" height="9.3" fill="#9be4d8" stroke="#3cc9b2" stroke-width="0.6"/>
<rect x="761.78" y="415.25" width="1.1" height="10" fill="#9be4d8" stroke="#3cc9b2" stroke-width="0.6"/>
<rect x="764.42" y="417.95" width="1.1" height="7.3" fill="#9be4d8" stroke="#3cc9b2" stroke-width="0.6"/>
<rect x="767.06" y="417.95" width="1.1" height="7.3" fill="#9be4d8" stroke="#3cc9b2" stroke-width="0.6"/>
<rect x="769.69" y="415.95" width="1.1" height="9.3" fill="#9be4d8" stroke="#3cc9b2" stroke-width="0.6"/>
<rect x="772.33" y="418.45" width="1.1" height="6.8" fill="#ffbcc2" stroke="#ff7584" stroke-width="0.6"/>
<rect x="774.97" y="418.45" width="1.1" height="6.8" fill="#9be4d8" stroke="#3cc9b2" stroke-width="0.6"/>
<rect x="777.61" y="419.05" width="1.1" height="6.2" fill="#9be4d8" stroke="#3cc9b2" stroke-width="0.6"/>
<rect x="780.25" y="419.05" width="1.1" height="6.2" fill="#9be4d8" stroke="#3cc9b2" stroke-width="0.6"/>
<rect x="782.89" y="419.75" width="1.1" height="5.5" fill="#9be4d8" stroke="#3cc9b2" stroke-width="0.6"/>
<rect x="785.53" y="415.25" width="1.1" height="10" fill="#9be4d8" stroke="#3cc9b2" stroke-width="0.6"/>
<rect x="788.17" y="415.95" width="1.1" height="9.3" fill="#ffbcc2" stroke="#ff7584" stroke-width="0.6"/>
<rect x="790.81" y="419.05" width="1.1" height="6.2" fill="#ffbcc2" stroke="#ff7584" stroke-width="0.6"/>
<rect x="793.45" y="419.05" width="1.1" height="6.2" fill="#ffbcc2" stroke="#ff7584" stroke-width="0.6"/>
<rect x="796.08" y="420.55" width="1.1" height="4.7" fill="#ffbcc2" stroke="#ff7584" stroke-width="0.6"/>
<rect x="798.72" y="420.55" width="1.1" height="4.7" fill="#9be4d8" stroke="#3cc9b2" stroke-width="0.6"/>
<rect x="801.36" y="420.55" width="1.1" height="4.7" fill="#ffbcc2" stroke="#ff7584" stroke-width="0.6"/>
<rect x="804" y="420.55" width="1.1" height="4.7" fill="#ffbcc2" stroke="#ff7584" stroke-width="0.6"/>
<rect x="806.64" y="420.55" width="1.1" height="4.7" fill="#9be4d8" stroke="#3cc9b2" stroke-width="0.6"/>
<rect x="809.28" y="419.75" width="1.1" height="5.5" fill="#9be4d8" stroke="#3cc9b2" stroke-width="0.6"/>
<rect x="811.92" y="419.05" width="1.1" height="6.2" fill="#ffbcc2" stroke="#ff7584" stroke-width="0.6"/>
<rect x="814.56" y="417.25" width="1.1" height="8" fill="#9be4d8" stroke="#3cc9b2" stroke-width="0.6"/>
<rect x="817.2" y="415.25" width="1.1" height="10" fill="#9be4d8" stroke="#3cc9b2" stroke-width="0.6"/>
<rect x="819.84" y="413.45" width="1.1" height="11.8" fill="#ffbcc2" stroke="#ff7584" stroke-width="0.6"/>
<rect x="822.47" y="410.05" width="1.1" height="15.2" fill="#ffbcc2" stroke="#ff7584" stroke-width="0.6"/>
<rect x="825.11" y="415.95" width="1.1" height="9.3" fill="#ffbcc2" stroke="#ff7584" stroke-width="0.6"/>
<rect x="827.75" y="415.25" width="1.1" height="10" fill="#9be4d8" stroke="#3cc9b2" stroke-width="0.6"/>
<rect x="830.39" y="413.95" width="1.1" height="11.3" fill="#ffbcc2" stroke="#ff7584" stroke-width="0.6"/>
<rect x="833.03" y="419.05" width="1.1" height="6.2" fill="#9be4d8" stroke="#3cc9b2" stroke-width="0.6"/>
<rect x="835.67" y="419.75" width="1.1" height="5.5" fill="#ffbcc2" stroke="#ff7584" stroke-width="0.6"/>
<rect x="838.31" y="420.55" width="1.1" height="4.7" fill="#9be4d8" stroke="#3cc9b2" stroke-width="0.6"/>
<rect x="840.95" y="419.75" width="1.1" height="5.5" fill="#ffbcc2" stroke="#ff7584" stroke-width="0.6"/>
<rect x="843.59" y="420.55" width="1.1" height="4.7" fill="#9be4d8" stroke="#3cc9b2" stroke-width="0.6"/>
<rect x="846.23" y="419.75" width="1.1" height="5.5" fill="#ffbcc2" stroke="#ff7584" stroke-width="0.6"/>
<rect x="848.86" y="419.05" width="1.1" height="6.2" fill="#9be4d8" stroke="#3cc9b2" stroke-width="0.6"/>
<rect x="851.5" y="419.05" width="1.1" height="6.2" fill="#9be4d8" stroke="#3cc9b2" stroke-width="0.6"/>
<rect x="854.14" y="417.95" width="1.1" height="7.3" fill="#ffbcc2" stroke="#ff7584" stroke-width="0.6"/>
<rect x="856.78" y="415.95" width="1.1" height="9.3" fill="#9be4d8" stroke="#3cc9b2" stroke-width="0.6"/>
<rect x="859.42" y="419.05" width="1.1" height="6.2" fill="#9be4d8" stroke="#3cc9b2" stroke-width="0.6"/>
<rect x="862.06" y="417.05" width="1.1" height="8.2" fill="#ffbcc2" stroke="#ff7584" stroke-width="0.6"/>
<rect x="864.7" y="418.45" width="1.1" height="6.8" fill="#9be4d8" stroke="#3cc9b2" stroke-width="0.6"/>
<rect x="867.34" y="418.45" width="1.1" height="6.8" fill="#9be4d8" stroke="#3cc9b2" stroke-width="0.6"/>
<rect x="869.98" y="419.75" width="1.1" height="5.5" fill="#9be4d8" stroke="#3cc9b2" stroke-width="0.6"/>
<rect x="872.62" y="419.75" width="1.1" height="5.5" fill="#ffbcc2" stroke="#ff7584" stroke-width="0.6"/>
<rect x="875.25" y="417.95" width="1.1" height="7.3" fill="#ffbcc2" stroke="#ff7584" stroke-width="0.6"/>
<rect x="877.89" y="419.05" width="1.1" height="6.2" fill="#ffbcc2" stroke="#ff7584" stroke-width="0.6"/>
<rect x="880.53" y="419.75" width="1.1" height="5.5" fill="#ffbcc2" stroke="#ff7584" stroke-width="0.6"/>
<rect x="883.17" y="419.05" width="1.1" height="6.2" fill="#ffbcc2" stroke="#ff7584" stroke-width="0.6"/>
<rect x="885.81" y="419.75" width="1.1" height="5.5" fill="#9be4d8" stroke="#3cc9b2" stroke-width="0.6"/>
<rect x="888.45" y="418.45" width="1.1" height="6.8" fill="#9be4d8" stroke="#3cc9b2" stroke-width="0.6"/>
<rect x="891.09" y="417.05" width="1.1" height="8.2" fill="#ffbcc2" stroke="#ff7584" stroke-width="0.6"/>
<rect x="893.73" y="417.95" width="1.1" height="7.3" fill="#9be4d8" stroke="#3cc9b2" stroke-width="0.6"/>
<rect x="896.37" y="417.95" width="1.1" height="7.3" fill="#ffbcc2" stroke="#ff7584" stroke-width="0.6"/>
<rect x="899.01" y="418.45" width="1.1" height="6.8" fill="#ffbcc2" stroke="#ff7584" stroke-width="0.6"/>
<rect x="901.64" y="417.95" width="1.1" height="7.3" fill="#9be4d8" stroke="#3cc9b2" stroke-width="0.6"/>
<rect x="904.28" y="415.95" width="1.1" height="9.3" fill="#ffbcc2" stroke="#ff7584" stroke-width="0.6"/>
<rect x="906.92" y="418.45" width="1.1" height="6.8" fill="#ffbcc2" stroke="#ff7584" stroke-width="0.6"/>
<rect x="909.56" y="419.75" width="1.1" height="5.5" fill="#ffbcc2" stroke="#ff7584" stroke-width="0.6"/>
<rect x="912.2" y="419.05" width="1.1" height="6.2" fill="#9be4d8" stroke="#3cc9b2" stroke-width="0.6"/>
<rect x="914.84" y="419.05" width="1.1" height="6.2" fill="#ffbcc2" stroke="#ff7584" stroke-width="0.6"/>
<rect x="917.48" y="420.55" width="1.1" height="4.7" fill="#9be4d8" stroke="#3cc9b2" stroke-width="0.6"/>
<rect x="920.12" y="414.75" width="1.1" height="10.5" fill="#ffbcc2" stroke="#ff7584" stroke-width="0.6"/>
<rect x="922.76" y="419.05" width="1.1" height="6.2" fill="#9be4d8" stroke="#3cc9b2" stroke-width="0.6"/>
<rect x="925.4" y="419.75" width="1.1" height="5.5" fill="#9be4d8" stroke="#3cc9b2" stroke-width="0.6"/>
<rect x="928.03" y="415.95" width="1.1" height="9.3" fill="#ffbcc2" stroke="#ff7584" stroke-width="0.6"/>
<rect x="930.67" y="414.75" width="1.1" height="10.5" fill="#9be4d8" stroke="#3cc9b2" stroke-width="0.6"/>
<rect x="933.31" y="418.45" width="1.1" height="6.8" fill="#ffbcc2" stroke="#ff7584" stroke-width="0.6"/>
<rect x="935.95" y="417.95" width="1.1" height="7.3" fill="#9be4d8" stroke="#3cc9b2" stroke-width="0.6"/>
<rect x="938.59" y="419.75" width="1.1" height="5.5" fill="#9be4d8" stroke="#3cc9b2" stroke-width="0.6"/>
<rect x="941.23" y="419.05" width="1.1" height="6.2" fill="#ffbcc2" stroke="#ff7584" stroke-width="0.6"/>
<rect x="943.87" y="419.75" width="1.1" height="5.5" fill="#ffbcc2" stroke="#ff7584" stroke-width="0.6"/>
<rect x="946.51" y="419.05" width="1.1" height="6.2" fill="#ffbcc2" stroke="#ff7584" stroke-width="0.6"/>
<rect x="949.15" y="418.45" width="1.1" height="6.8" fill="#ffbcc2" stroke="#ff7584" stroke-width="0.6"/>
<rect x="951.79" y="419.75" width="1.1" height="5.5" fill="#ffbcc2" stroke="#ff7584" stroke-width="0.6"/>
<rect x="954.42" y="416.55" width="1.1" height="8.7" fill="#9be4d8" stroke="#3cc9b2" stroke-width="0.6"/>
<rect x="957.06" y="419.05" width="1.1" height="6.2" fill="#ffbcc2" stroke="#ff7584" stroke-width="0.6"/>
<rect x="959.7" y="419.05" width="1.1" height="6.2" fill="#ffbcc2" stroke="#ff7584" stroke-width="0.6"/>
<rect x="962.34" y="419.95" width="1.1" height="5.3" fill="#ffbcc2" stroke="#ff7584" stroke-width="0.6"/>
<rect x="964.98" y="419.05" width="1.1" height="6.2" fill="#ffbcc2" stroke="#ff7584" stroke-width="0.6"/>
<rect x="967.62" y="417.85" width="1.1" height="7.4" fill="#9be4d8" stroke="#3cc9b2" stroke-width="0.6"/>
<rect x="970.26" y="418.45" width="1.1" height="6.8" fill="#ffbcc2" stroke="#ff7584" stroke-width="0.6"/>
<rect x="972.9" y="417.85" width="1.1" height="7.4" fill="#ffbcc2" stroke="#ff7584" stroke-width="0.6"/>
<rect x="975.54" y="417.85" width="1.1" height="7.4" fill="#9be4d8" stroke="#3cc9b2" stroke-width="0.6"/>
<rect x="978.18" y="419.05" width="1.1" height="6.2" fill="#9be4d8" stroke="#3cc9b2" stroke-width="0.6"/>
<rect x="980.81" y="418.45" width="1.1" height="6.8" fill="#ffbcc2" stroke="#ff7584" stroke-width="0.6"/>
<rect x="983.45" y="414.75" width="1.1" height="10.5" fill="#ffbcc2" stroke="#ff7584" stroke-width="0.6"/>
<rect x="986.09" y="411.95" width="1.1" height="13.3" fill="#ffbcc2" stroke="#ff7584" stroke-width="0.6"/>
<rect x="988.73" y="406.35" width="1.1" height="18.9" fill="#9be4d8" stroke="#3cc9b2" stroke-width="0.6"/>
<rect x="991.37" y="411.95" width="1.1" height="13.3" fill="#ffbcc2" stroke="#ff7584" stroke-width="0.6"/>
<rect x="994.01" y="411.95" width="1.1" height="13.3" fill="#ffbcc2" stroke="#ff7584" stroke-width="0.6"/>
<rect x="996.65" y="412.75" width="1.1" height="12.5" fill="#9be4d8" stroke="#3cc9b2" stroke-width="0.6"/>
<rect x="999.29" y="413.95" width="1.1" height="11.3" fill="#9be4d8" stroke="#3cc9b2" stroke-width="0.6"/>
<rect x="1001.93" y="412.75" width="1.1" height="12.5" fill="#ffbcc2" stroke="#ff7584" stroke-width="0.6"/>
<rect x="1004.57" y="400.05" width="1.1" height="25.2" fill="#ffbcc2" stroke="#ff7584" stroke-width="0.6"/>
<rect x="1007.2" y="401.95" width="1.1" height="23.3" fill="#9be4d8" stroke="#3cc9b2" stroke-width="0.6"/>
<rect x="1009.84" y="412.75" width="1.1" height="12.5" fill="#ffbcc2" stroke="#ff7584" stroke-width="0.6"/>
<rect x="1012.48" y="413.95" width="1.1" height="11.3" fill="#ffbcc2" stroke="#ff7584" stroke-width="0.6"/>
<rect x="1015.12" y="414.75" width="1.1" height="10.5" fill="#ffbcc2" stroke="#ff7584" stroke-width="0.6"/>
<rect x="1017.76" y="417.25" width="1.1" height="8" fill="#ffbcc2" stroke="#ff7584" stroke-width="0.6"/>
<rect x="1020.4" y="416.05" width="1.1" height="9.2" fill="#ffbcc2" stroke="#ff7584" stroke-width="0.6"/>
<rect x="1023.04" y="416.45" width="1.1" height="8.8" fill="#ffbcc2" stroke="#ff7584" stroke-width="0.6"/>
<rect x="1025.68" y="416.95" width="1.1" height="8.3" fill="#9be4d8" stroke="#3cc9b2" stroke-width="0.6"/>
<rect x="1028.32" y="416.05" width="1.1" height="9.2" fill="#ffbcc2" stroke="#ff7584" stroke-width="0.6"/>
<rect x="1030.96" y="416.95" width="1.1" height="8.3" fill="#9be4d8" stroke="#3cc9b2" stroke-width="0.6"/>
<rect x="1033.6" y="420.95" width="1.1" height="4.3" fill="#9be4d8" stroke="#3cc9b2" stroke-width="0.6"/></g>
<line x1="17.5" y1="127.5" x2="1034" y2="127.5" stroke="#4a1bff" stroke-width="0.9" stroke-dasharray="0.9 1" opacity="0.6"/>
<path d="M17 189.25 L20 183.5 L23.75 180.5 L26.25 183 L28.75 189.25 L31.25 182.5 L34.5 176.75 L36.75 166.25 L38.75 172.5 L42.5 175.5 L45 178.75 L47.5 184.25 L50 189.25 L52.5 194.25 L55 193 L57.5 181.75 L60.25 176.75 L62.5 184.25 L65 191.25 L68 191.75 L71 194.25 L73.25 180.5 L76.25 186 L78.75 180.5 L81.25 175 L83.75 184.25 L86.25 190.5 L89.25 196 L92 208 L95 210 L97.5 204.25 L100 215.5 L103 221 L105.4 204 L107.5 213.5 L110 195.5 L112.5 180.5 L115 164.25 L117.5 153.75 L121.25 157.25 L123 153.5 L125.75 154.25 L129.25 148 L131.75 152.5 L134.25 161 L136.5 165 L139.5 183.5 L141.75 181.25 L144.25 144.25 L147.5 129.25 L150 130 L152.5 117.5 L156.25 114.25 L158.25 116.25 L160.75 127.5 L163 150.5 L165.75 150 L168.25 143.75 L170.75 152.25 L173.75 143.5 L176.25 143.5 L178.75 145.5 L182 138.5 L184.5 138 L187 146.75 L189.5 170.5 L191.25 193 L193 230 L195 267.5 L197.25 291.25 L200 255 L202.75 220.5 L205 242.5 L208.75 258.75 L211 290.5 L213.5 268 L215.75 270.5 L219 290 L221.25 247.5 L223.75 268.25 L226.5 243.75 L229.25 231.25 L231.5 240.75 L234.5 224.5 L237.25 223.25 L239.75 213 L242.5 235 L245 251.25 L247.5 257 L250.25 243.75 L253 241.75 L255.25 272.5 L258 310 L261 302.5 L263.75 288.75 L265.75 272.5 L268 227.5 L271.75 213 L274 237.5 L276.5 220 L279.25 226.25 L282 221.75 L284.5 223 L287.5 231 L290 228.75 L292.5 190 L295 177.5 L298 175.5 L300.5 195 L303 213.75 L305.75 218 L308.25 191.25 L310.5 187.5 L313.75 155 L316.5 140.5 L319 170 L321.25 200 L324.25 154.5 L326.75 157.5 L329.25 188 L332 188.25 L334.5 196.25 L337 206.25 L340 201.25 L342.5 203.25 L345.5 216.25 L348 220.5 L351 224.5 L353 234 L355.5 218.75 L358.25 256.25 L360.75 260 L363.5 291.75 L366.25 270 L369 235 L372 238 L374.5 238.75 L377 207.5 L379.5 231.25 L381.75 252.5 L385 237.5 L387.5 242.5 L390 247 L392.75 255.5 L395.25 253.75 L398 264.5 L400.75 260.75 L403.25 257.5 L405.75 245.75 L408.75 257.5 L411.5 267 L414 250 L416.5 247.5 L419.25 246.25 L422 244.5 L424.25 251.25 L427.25 236.25 L429.75 239.25 L432.5 256.25 L434.75 268.25 L437.5 260.5 L440.25 280.5 L442.75 289.5 L445.75 303.5 L448.25 301.5 L450.75 304.25 L453.75 326.75 L456.25 299.75 L458.75 310.5 L461.25 314.75 L464.25 316.25 L466.75 318.75 L469.25 314.25 L472 321.25 L474.5 316 L477 320.5 L480 332.5 L482.5 322.5 L485 333.75 L487.5 335.5 L490.25 350.5 L492.75 376 L495 376.75 L498.75 393 L501 373 L503.5 359.25 L506.25 371.75 L508.75 360.5 L511.25 348 L514 353.75 L516.75 356.75 L519.25 358.75 L521.75 338.75 L524.5 341.25 L527 339.25 L530 318.75 L532.5 330.5 L535 352.5 L537.75 339.25 L540.5 341.25 L543 344.25 L545.75 350.5 L548.25 348 L551.25 363.75 L553.75 350.5 L556 355 L559.25 322.25 L561.75 338 L564.25 360.5 L566.5 375.5 L569.5 365 L572 360.5 L574.5 338 L577.5 326.75 L580 333 L582.5 336.75 L585.5 348 L588 338.75 L590.5 338 L593 353.5 L595.75 336.75 L598.75 313 L600.75 293.75 L602.5 265 L604.25 232.5 L606.75 240 L609.25 249 L612 271.25 L614.5 268.25 L616.5 247.5 L619.25 243 L622 248.5 L624.5 245 L627.5 233.75 L630.5 222 L633 221.25 L635.75 220 L638.75 222.5 L641.25 228.25 L643.75 230.5 L646.25 234.5 L648.75 240.75 L651 238.25 L653.75 204.5 L656.75 215 L659.25 209.5 L661.75 208.75 L664.5 200.5 L667 200.75 L669.5 224.25 L672.5 223.75 L675 223.75 L677.5 216.25 L680 229.25 L683 223.75 L685.5 215 L688 203 L691 205.5 L693.25 191.25 L695.75 181.25 L698.25 178 L701.25 172 L704.25 167.5 L706.75 165.5 L709.75 161.75 L712 168 L714.25 159.25 L717.5 162.5 L720 147.5 L722.5 145 L725 146.25 L727.75 166.25 L730.25 157.5 L733 165 L735.5 165.5 L738.5 185.5 L741.25 173 L744 166.25 L746.25 175.5 L748.5 171.75 L751.25 194.5 L754.5 200.75 L756.75 177.5 L759.25 157 L762.5 148.75 L765 135 L767.5 127 L770 125.5 L772.5 128 L775 115.75 L778 114.5 L780.5 111.25 L783 108.25 L785.5 86.25 L788.5 91.25 L791.25 96.35 L794 96.3 L796.7 95.1 L799.4 93.9 L802.1 92.6 L804.8 91 L806.8 89.7 L809.1 88.9 L811.8 95.2 L814.9 87.3 L817.6 71.7 L820.25 110 L823 146.25 L825.75 150.5 L828 141 L831 159 L833.5 153.75 L836 152 L838.5 151.25 L841.25 156.5 L843.5 153 L846.25 164 L849.25 152 L851.75 149.75 L854.5 157.5 L857.5 162 L860 153.75 L862.5 163 L865 164.5 L867.5 163 L870 153 L873 161.25 L875.75 164 L878.5 168.25 L880.75 165.5 L883.75 165 L886.25 162.5 L888.5 166.5 L891 189.5 L894.25 170 L896.75 192 L899.25 195 L902 188.75 L904.5 196.25 L907 206.25 L910 200.75 L912.5 183.75 L915 187.5 L917.5 184.5 L920.5 206.25 L923 198.75 L925.5 194.25 L928.75 218.25 L931.25 198.75 L933.75 205 L936.75 203.75 L939.25 197.5 L941.75 205 L944.25 208.75 L946.75 207.5 L949.5 225.75 L952 228.25 L955 239.5 L957.5 243.75 L960 248.25 L963 241.75 L965.5 244.5 L968 247.5 L970.5 260.75 L973.25 262 L976.25 256.25 L978.75 251.75 L981.5 249 L983.5 267.5 L986.25 277.5 L988.75 295 L991.75 315 L994.25 344.25 L996.75 340 L999.75 326.25 L1002.25 340 L1003.75 287.5 L1005.5 245 L1008 212.5 L1010 246.25 L1012.5 252.75 L1016 258.5 L1018.5 268.5 L1023 286.25 L1025.75 282.5 L1028.75 291.75 L1032.5 286.25 L1035 276.25" fill="none" stroke="#4a1bff" stroke-width="1.7" stroke-linejoin="round" stroke-linecap="round"/>
</svg>

<!-- toolbar -->
<div class="dbg"></div>
<div class="tb" style="left:24.5px">1m</div>
<div class="tb" style="left:50px">30m</div>
<div class="tb" style="left:82.4px">1h</div>
<div class="tb" style="left:103.3px;color:#4a1bff;-webkit-text-stroke:0.2px #4a1bff">D</div>
<div class="sep" style="left:136px"></div>
<div class="sep" style="left:259px"></div>
<div class="sep" style="left:296px"></div>
<div class="sep" style="left:1023px"></div>
<div class="tb" style="left:328.5px;letter-spacing:-0.05px">Indicators</div>
<svg width="1100" height="451" viewBox="0 0 1100 451" fill="none" stroke="#131722" stroke-width="1.1" stroke-linecap="round" stroke-linejoin="round">
<!-- chevrons -->
<path d="M122.6 15.2 L125.6 17.9 L128.6 15.2" stroke-width="1"/>
<path d="M244.8 15 L247.7 17.7 L250.6 15" stroke-width="1"/>
<!-- bars icon -->
<path d="M151.7 11.2 V22.8 M151.7 21.7 H148.6 M158.6 10.6 V22.8 M158.6 13.1 H155.6 M158.6 18.5 H161.4" stroke-width="1.1"/>
<!-- candles icon -->
<path d="M175.2 9.5 V11.8 M175.2 21.8 V24.3 M181.8 11.2 V13.3 M181.8 19.6 V21.8" />
<rect x="173.4" y="11.8" width="3.6" height="10" rx="0.6"/>
<rect x="180.2" y="13.3" width="3.2" height="6.3" rx="0.6"/>
<!-- area icon -->
<path d="M192.2 19.3 L199.3 13.6 L203 16.2 L210.8 9.6" stroke="#50535e"/>
<path d="M192 22.8 L199.3 16.4 L203 19 L210.8 12.4 V22.8 Z" fill="#787b86" stroke="#787b86" stroke-width="0.4"/>
<!-- line icon -->
<path d="M217.6 21.4 L224.6 15.6 L228 18.6 L235.4 11" stroke="#4a1bff" stroke-width="1.2"/>
<!-- plus circle -->
<circle cx="277.6" cy="16.7" r="7.3"/>
<path d="M274.2 16.7 H281 M277.6 13.3 V20.1"/>
<!-- indicators icon -->
<path d="M310 14.5 L313.8 10.6 L317 13.2 L322.6 9.4" />
<path stroke-width="0.95" d="M309.5 23.3 V21 H312.4 V23.3 M312.4 23.3 V19 H315.3 V23.3 M315.3 23.3 V17.2 H318.4 V23.3 M318.4 23.3 V15 H322.8 V23.3 M309.5 23.3 H322.8"/>
<!-- popout -->
<path d="M1041.2 10.4 H1036.6 Q1034.9 10.4 1034.9 12.1 V21.6 Q1034.9 23.3 1036.6 23.3 H1046.3 Q1048 23.3 1048 21.6 V17.2 M1044.4 9.8 H1048.8 V14.2 M1048.6 10 L1041.2 17.4"/>
<!-- camera -->
<path d="M1064.8 12.4 H1066.6 L1067.8 10.2 H1074.6 L1075.8 12.4 H1077.7 Q1079.4 12.4 1079.4 14.1 V20.8 Q1079.4 22.5 1077.7 22.5 H1064.8 Q1063.1 22.5 1063.1 20.8 V14.1 Q1063.1 12.4 1064.8 12.4 Z"/>
<circle cx="1071.2" cy="17" r="2.9"/>
</svg>

<!-- legend -->
<div style="position:absolute;left:24.9px;top:38.4px;width:14.4px;height:14.4px;border-radius:50%;background:#f1f2fc"></div>
<svg width="1100" height="451" viewBox="0 0 1100 451" fill="none">
<path d="M29.9 42.3 L35 43.5 C36.1 43.9 35.9 44.9 34.7 45.1 L29.2 45.4" stroke="#2d8cff" stroke-width="1.25" stroke-linecap="round" stroke-linejoin="round"/><path d="M35.3 45.4 C35.1 46.4 34 46.7 32.6 46.4 M28.5 45.8 C28 46.9 28.7 47.3 29.7 47.6 L33.7 48.7" stroke="#3a10d8" stroke-width="1.3" stroke-linecap="round" stroke-linejoin="round"/>
</svg>
<div class="leg" style="left:42.5px;top:38.6px;font-size:12.7px;line-height:15px;letter-spacing:-0.29px;color:#131722">Pfizer, Inc. · 1D · Cboe One</div>
<div style="position:absolute;left:202.3px;top:38.5px;width:16px;height:14px;border-radius:7px 0 0 7px;background:#e6e6fd"></div>
<div style="position:absolute;left:218.3px;top:38.5px;width:16px;height:14px;border-radius:0 7px 7px 0;background:#ffdcb2"></div>
<svg width="1100" height="451" viewBox="0 0 1100 451"><path d="M213.4 42.1 A3.9 3.9 0 1 0 213.4 49.3 A3.9 3.9 0 0 1 213.4 42.1 Z" fill="#3d1de8"/></svg>
<div class="leg" style="left:222.6px;top:40.6px;font-size:10px;line-height:12px;color:#f57600">D</div>
<div class="leg" style="left:247.3px;top:40.7px;font-size:10.1px;line-height:12px;color:#4a1bff">33.94</div>
<div class="leg" style="left:278.4px;top:40.7px;font-size:10.1px;line-height:12px;color:#4a1bff">+0.77 (+2.32%)</div>
<div class="leg" style="left:25.1px;top:59px;font-size:9.8px;line-height:12px;color:#131722">Vol</div>
<div class="leg" style="left:46.1px;top:59.9px;font-size:10.3px;line-height:12px;color:#22ab94">44.614M</div>
<div style="position:absolute;left:24.5px;top:76.2px;width:22.7px;height:15.5px;box-sizing:border-box;border:1px solid #e0e3eb;border-radius:3px;background:#fff"></div>
<svg width="1100" height="451" viewBox="0 0 1100 451" fill="none" stroke="#131722" stroke-width="1.1" stroke-linecap="round" stroke-linejoin="round"><path d="M33 85.6 L35.8 83 L38.6 85.6"/></svg>

<!-- tooltip -->
<div style="position:absolute;left:87.5px;top:35px;width:38.5px;height:18.3px;border-radius:2px;background:#2a2e39"></div>
<svg width="1100" height="451" viewBox="0 0 1100 451"><path d="M103.4 35.2 L106.7 32 L110 35.2 Z" fill="#2a2e39"/></svg>
<div class="leg" style="left:94px;top:37.7px;font-size:10px;line-height:12px;color:#fff">1 day</div>

<!-- axes -->
<div class="tl" style="left:77.3px">Jul</div><div class="tl" style="left:190.5px">Sep</div><div class="tl" style="left:304.5px">Nov</div><div class="tl b" style="left:415.5px">2016</div><div class="tl" style="left:518.7px">Mar</div><div class="tl" style="left:631.4px">May</div><div class="tl" style="left:745.8px">Jul</div><div class="tl" style="left:858.7px">Sep</div><div class="tl" style="left:969.3px">Nov</div>
<div class="pl" style="top:42.8px">36.00</div><div class="pl" style="top:81.58px">35.00</div><div class="pl" style="top:159.14px">33.00</div><div class="pl" style="top:197.92px">32.00</div><div class="pl" style="top:236.7px">31.00</div><div class="pl" style="top:275.48px">30.00</div><div class="pl" style="top:314.26px">29.00</div><div class="pl" style="top:353.04px">28.00</div><div class="pl" style="top:391.82px">27.00</div>
<div class="lab" style="left:1006px;top:107.5px;width:27.5px;height:13.3px;line-height:15px;padding-left:4.7px;border-radius:2px 0 0 2px"><span class="sx">Post</span></div>
<div class="lab" style="left:1034.1px;top:107.2px;width:35px;height:13.6px;line-height:15.4px;padding-left:6.7px;border-radius:0 2px 0 0"><span class="sx">33.94</span></div>
<div class="lab" style="left:1034.1px;top:120.8px;width:35px;height:13.2px;line-height:14.2px;padding-left:6.7px;border-radius:0 0 2px 0"><span class="sx">33.94</span></div>
<div style="position:absolute;left:1033.3px;top:108px;width:1px;height:12.5px;background:#8d78fa"></div>
<div class="lab" style="left:1034.5px;top:272.5px;width:34.8px;height:12.6px;line-height:12.4px;padding-left:5.4px;border:1px solid #7a5cff;border-radius:2px;background:#fff;color:#4a1bff"><span class="sx">30.04</span></div>
<div class="lab" style="left:1034.1px;top:412.2px;width:49px;height:12.6px;line-height:12.6px;padding-left:5.6px;border:1px solid #3dbaa4;border-radius:2px;background:#fff;color:#22ab94"><span class="sx">11.027M</span></div>

<!-- TV logo -->
<div style="position:absolute;left:27.2px;top:386.6px;width:27.3px;height:27.3px;box-sizing:border-box;border:1px solid #e0e3eb;border-radius:50%;background:#fff"></div>
<svg width="1100" height="451" viewBox="0 0 1100 451"><path d="M32.8 396.4 H39.4 V404.4 H36.2 V399.6 H32.8 Z M41.5 396.4 A1.55 1.55 0 1 1 41.49 396.4 Z M45.6 396.4 H49.3 L45.9 404.4 H42.2 Z" fill="#131722"/></svg>

<!-- scroll button -->
<div style="position:absolute;left:1002.5px;top:381.7px;width:19px;height:18px;border-radius:3px;background:#fff;box-shadow:0 1px 3px rgba(0,0,0,.22)"></div>
<svg width="1100" height="451" viewBox="0 0 1100 451" fill="none" stroke="#131722" stroke-width="1.2" stroke-linecap="round" stroke-linejoin="round"><path d="M1008.3 387.6 L1011.2 390.6 L1008.3 393.6 M1011.9 386.4 L1016 390.6 L1011.9 394.8"/>
<!-- settings hexagon -->
<path d="M1058.2 431.6 H1063.9 L1066.8 436.8 L1063.9 442 H1058.2 L1055.3 436.8 Z" stroke-width="1.1"/><circle cx="1061" cy="436.8" r="1.7" stroke-width="1.1"/></svg>
</body></html>
